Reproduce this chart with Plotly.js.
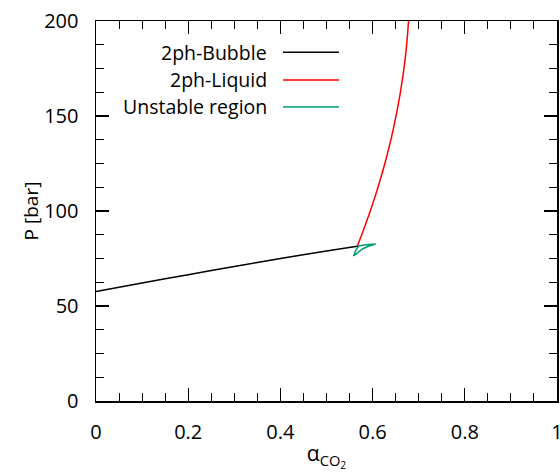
<!DOCTYPE html>
<html>
<head>
<meta charset="utf-8">
<script src="https://cdn.plot.ly/plotly-3.0.1.min.js"></script>
<style>html,body{margin:0;padding:0;background:#fff;}#chart{width:560px;height:472px;}</style>
</head>
<body>
<div id="chart"></div>
<script>
// Two-phase bubble line (black)
const bubbleX = [0, 0.1, 0.2, 0.3, 0.4, 0.5, 0.57];
const bubbleP = [57.6, 62.1, 66.5, 70.8, 75.0, 79.0, 81.6];
// Two-phase liquid line (red)
const liquidX = [0.567, 0.575, 0.5827, 0.5972, 0.6105, 0.6284, 0.6436, 0.6598, 0.6714, 0.678, 0.6792];
const liquidP = [81.6, 86.6, 91.6, 101.6, 111.6, 126.6, 141.6, 161.6, 181.6, 200, 205.6];
// Unstable region (green)
const unstableX = [0.5696, 0.585, 0.6065, 0.592, 0.578, 0.5587, 0.563, 0.5696];
const unstableP = [81.6, 82.2, 82.6, 81.6, 80.0, 76.3, 79.0, 81.6];

const names = ['2ph-Bubble', '2ph-Liquid', 'Unstable region'];
const colors = ['#000000', '#ff0000', '#009e73'];

const xTicks = [0, 0.2, 0.4, 0.6, 0.8, 1];
const xTickText = ['0', '0.2', '0.4', '0.6', '0.8', '1'];
const yTicks = [0, 50, 100, 150, 200];
const yTickText = ['0', '50', '100', '150', '200'];

const series = [[bubbleX, bubbleP], [liquidX, liquidP], [unstableX, unstableP]];
const shapesLine = ['spline', 'spline', 'linear'];
const traces = series.map((s, i) => ({
  x: s[0], y: s[1], type: 'scatter', mode: 'lines', name: names[i],
  line: {color: colors[i], width: 1.5, shape: shapesLine[i], smoothing: 0.6},
  showlegend: false, hoverinfo: 'skip', cliponaxis: true
}));

const legY = [0.918, 0.845, 0.774];
const annotations = names.map((n, i) => ({
  xref: 'paper', yref: 'paper', x: 0.375, y: legY[i], xanchor: 'right', yanchor: 'middle',
  text: n, showarrow: false, font: {family: 'Open Sans', size: 19.5, color: '#000'}
}));
const shapes = names.map((n, i) => ({
  type: 'line', xref: 'paper', yref: 'paper', x0: 0.4056, x1: 0.527, y0: legY[i], y1: legY[i],
  line: {color: colors[i], width: 1.5}
}));

const axisCommon = {
  showline: true, linecolor: '#000', linewidth: 1.5, mirror: 'ticks',
  ticks: 'inside', ticklen: 13, tickwidth: 1.2, tickcolor: '#000',
  showgrid: false, zeroline: false, ticklabeloverflow: 'allow',
  tickfont: {family: 'Open Sans', size: 20, color: '#000'}
};

const layout = {
  width: 560, height: 472,
  margin: {l: 96, r: 3, t: 21, b: 71},
  paper_bgcolor: '#fff', plot_bgcolor: '#fff',
  font: {family: 'Open Sans', color: '#000'},
  xaxis: Object.assign({}, axisCommon, {
    range: [0, 1.00001], tickvals: xTicks, ticktext: xTickText,
    minor: {dtick: 0.05, ticklen: 8, tickcolor: '#000', tickwidth: 1, ticks: 'inside'},
    ticklabelstandoff: 12,
    title: {text: 'α<sub>CO<sub>2</sub></sub>', font: {family: 'Open Sans', size: 21}, standoff: 7}
  }),
  yaxis: Object.assign({}, axisCommon, {
    range: [0, 200], tickvals: yTicks, ticktext: yTickText,
    minor: {dtick: 12.5, ticklen: 8, tickcolor: '#000', tickwidth: 1, ticks: 'inside'},
    ticklabelstandoff: 12,
    title: {text: 'P [bar]', font: {family: 'Open Sans', size: 19}, standoff: 0}
  }),
  annotations: annotations,
  shapes: shapes
};

Plotly.newPlot('chart', traces, layout, {displayModeBar: false, staticPlot: true});
</script>
</body>
</html>
